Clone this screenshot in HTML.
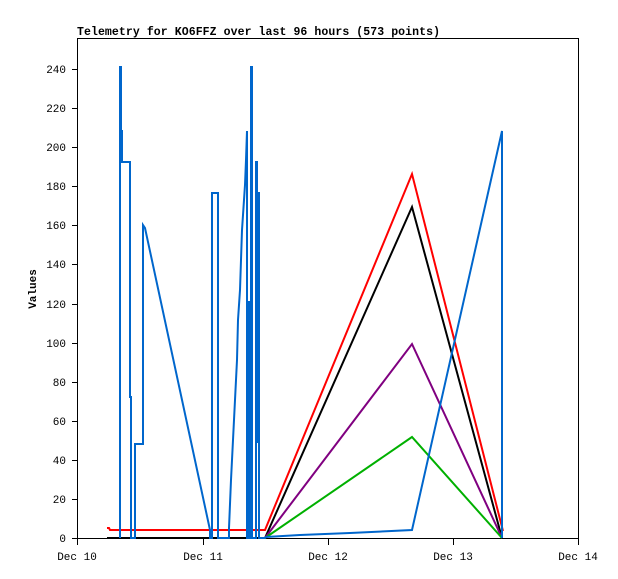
<!DOCTYPE html><html><head><style>html,body{margin:0;padding:0;background:#fff;width:618px;height:579px;overflow:hidden}</style></head><body>
<svg width="618" height="579" xmlns="http://www.w3.org/2000/svg" font-family="Liberation Mono, DejaVu Sans Mono, monospace" font-size="11">
<rect width="618" height="579" fill="#fff"/>
<text x="77" y="35" font-weight="bold" font-size="11.5" textLength="363">Telemetry for KO6FFZ over last 96 hours (573 points)</text>
<rect x="77.5" y="38.5" width="501" height="500" fill="none" stroke="#000" stroke-width="1"/>
<g stroke="#000">
<line x1="72" y1="538.5" x2="77" y2="538.5"/><line x1="72" y1="499.5" x2="77" y2="499.5"/><line x1="72" y1="460.5" x2="77" y2="460.5"/><line x1="72" y1="421.5" x2="77" y2="421.5"/><line x1="72" y1="382.5" x2="77" y2="382.5"/><line x1="72" y1="343.5" x2="77" y2="343.5"/><line x1="72" y1="304.5" x2="77" y2="304.5"/><line x1="72" y1="264.5" x2="77" y2="264.5"/><line x1="72" y1="225.5" x2="77" y2="225.5"/><line x1="72" y1="186.5" x2="77" y2="186.5"/><line x1="72" y1="147.5" x2="77" y2="147.5"/><line x1="72" y1="108.5" x2="77" y2="108.5"/><line x1="72" y1="69.5" x2="77" y2="69.5"/>
<line x1="77.5" y1="538" x2="77.5" y2="545"/><line x1="203.5" y1="538" x2="203.5" y2="545"/><line x1="328.5" y1="538" x2="328.5" y2="545"/><line x1="453.5" y1="538" x2="453.5" y2="545"/><line x1="578.5" y1="538" x2="578.5" y2="545"/>
</g>
<g text-anchor="end">
<text x="66" y="542">0</text><text x="66" y="503">20</text><text x="66" y="464">40</text><text x="66" y="425">60</text><text x="66" y="386">80</text><text x="66" y="347">100</text><text x="66" y="308">120</text><text x="66" y="268">140</text><text x="66" y="229">160</text><text x="66" y="190">180</text><text x="66" y="151">200</text><text x="66" y="112">220</text><text x="66" y="73">240</text>
</g>
<g text-anchor="middle">
<text x="77" y="560">Dec 10</text><text x="203" y="560">Dec 11</text><text x="328" y="560">Dec 12</text><text x="453" y="560">Dec 13</text><text x="578" y="560">Dec 14</text>
</g>
<text transform="translate(36,289) rotate(-90)" text-anchor="middle" font-weight="bold">Values</text>
<g fill="none" stroke-width="2" stroke-linejoin="miter">
<polyline stroke="#000" points="107,538 265,538 412,207 502,538"/>
<polyline stroke="#800080" points="265,538 412,344 502,538"/>
<polyline stroke="#00b000" points="265,538 412,437 502,538"/>
<polyline stroke="#ff0000" points="107,528 109,528 110,530 265,530 412,174 503,531"/>
<polyline stroke="#0066cc" points="120,538 120,67 121,67 121,131 122,131 122,162 130,162 130,397 131,397 131,538 135,538 135,444 143,444 143,225 145,228 210,530 210,538 212,538 212,193 218,193 218,538 229,538 229,528 231,480 233,440 235,400 237,360 238,320 240,290 241,260 242,230 244,200 245,185 246,160 247,131 247,538 249,538 249,302 250,302 250,538 251,538 251,67 252,67 252,538 256,538 256,162 257,162 257,442 258,442 258,193 259,193 259,538 265,538 266,537 300,535 350,533 412,530 502,131 502,538"/>
</g>
</svg>
</body></html>
